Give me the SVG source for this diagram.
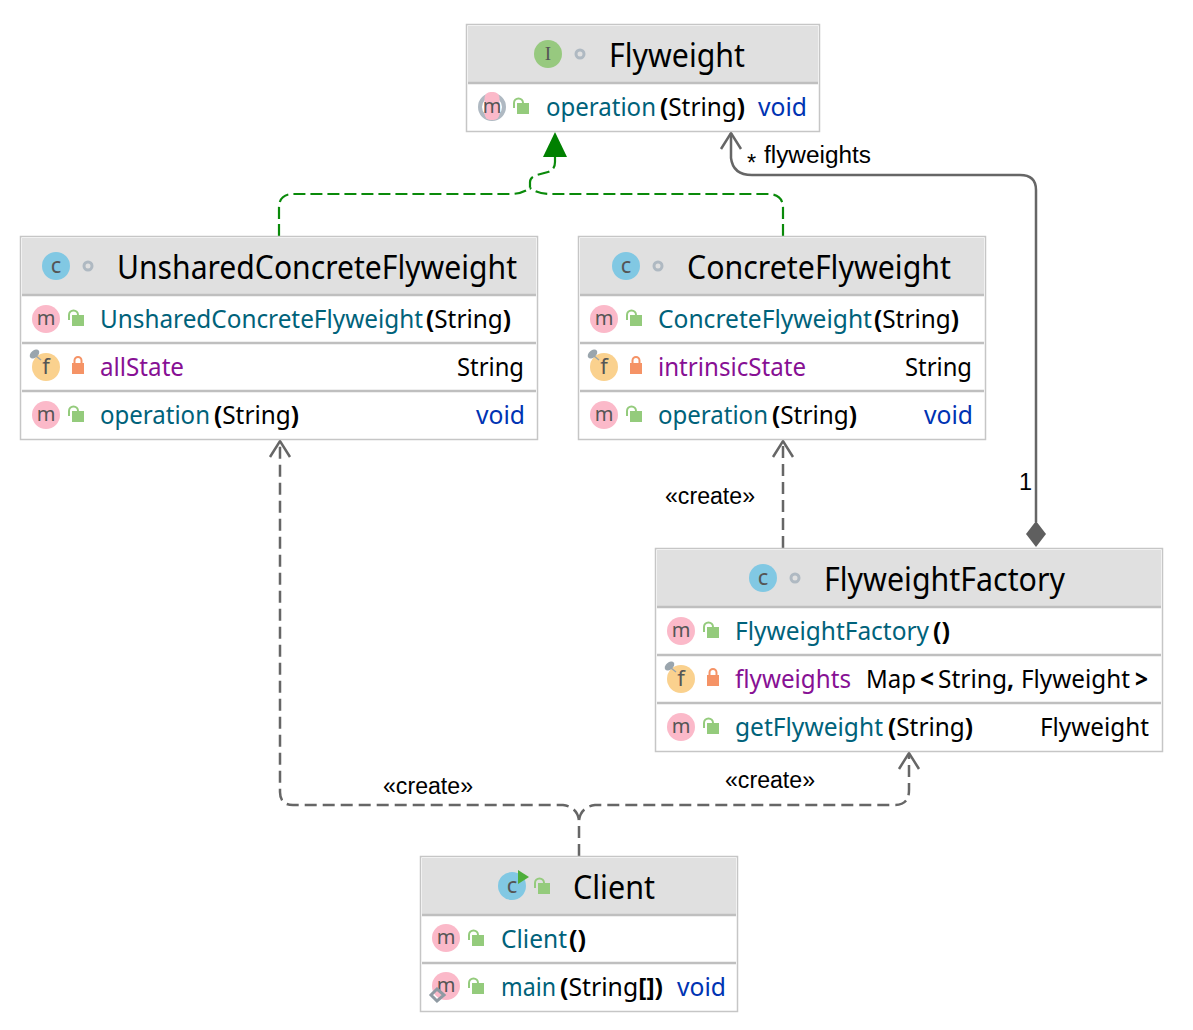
<svg xmlns="http://www.w3.org/2000/svg" xmlns:xlink="http://www.w3.org/1999/xlink" width="1193" height="1030" viewBox="0 0 1193 1030">
<style>
text{font-family:"Noto Sans","Open Sans","Liberation Sans",sans-serif;font-size:25px;fill:#000}
.t{font-size:32px}
.m{fill:#00627a}.f{fill:#871094}.k{fill:#0033b3}
.b{font-weight:700}
.l{font-family:"Liberation Sans",Arial,sans-serif;font-size:23.5px}
.box{fill:#fff;stroke:#c6c6c6;stroke-width:1.5}
.hd{fill:#e0e0e0}
.dv{stroke:#bfbfbf;stroke-width:2.5;fill:none}
.ic{font-size:20px;fill:#555;text-anchor:middle}
.ii{font-family:"Liberation Serif",serif;font-size:19px;fill:#555;text-anchor:middle}
.e{fill:none;stroke:#666;stroke-width:2.5}
.d{stroke-dasharray:12 6}
.g{fill:none;stroke:#0a8a0a;stroke-width:2.2;stroke-dasharray:12 5}
</style>
<defs>
<g id="open"><path d="M-6 3V-2A4.500 4.500 0 0 1 3-2" fill="none" stroke="#94cb7c" stroke-width="2"/><rect x="-3" y="-2" width="12" height="11" fill="#94cb7c"/></g>
<g id="priv"><path d="M-3.500 -2V-4.500A3.500 3.500 0 0 1 3.500-4.500V-2" fill="none" stroke="#f59366" stroke-width="2"/><rect x="-6" y="-2" width="12" height="11" fill="#f59366"/></g>
<g id="mi"><circle r="14" fill="#fbb9c9"/><text class="ic" y="6">m</text></g>
<g id="fi"><circle r="14" fill="#fad18e"/><text class="ic" y="7" style="font-size:22px">f</text><ellipse cx="-11.500" cy="-13" rx="5.500" ry="3.500" transform="rotate(-40 -11.500 -13)" fill="#9aa5ad"/><path d="M-10-11L-5-7" stroke="#9aa5ad" stroke-width="1.500"/></g>
<g id="ci"><circle r="14" fill="#81c8e3"/><text class="ic" y="6.500" style="font-size:22px">c</text></g>
<circle id="st" r="4" fill="none" stroke="#afb9c2" stroke-width="3"/>
</defs>

<g id="connectors">
<path class="g" d="M279 236V208Q279 194 293 194H510Q522 194 530 188V182Q530 177 537 175L548 172Q555 170 555 162V156"/>
<path class="g" d="M783 236V208Q783 194 768 194H550Q538 194 530 188"/>
<polygon points="555,132 543,157 567,157" fill="#008000"/>
<path class="e" d="M731 133V158Q733 175 752 175H1020Q1036 175 1036 190V522"/>
<path class="e" d="M721 149L731 133L741 149"/>
<polygon points="1036,521 1046,534 1036,547 1026,534" fill="#5f5f5f"/>
<path class="e d" d="M783 548V442"/>
<path class="e" d="M773 457L783 441L793 457"/>
<path class="e d" d="M579 856V820Q577 807 563 805H293Q280 805 280 792V442"/>
<path class="e" d="M270 457L280 441L290 457"/>
<path class="e d" d="M579 820Q581 807 595 805H895Q909 805 909 790V754"/>
<path class="e" d="M899 769L909 753L919 769"/>
<text class="l" x="747" y="171" textLength="9">*</text>
<text class="l" x="764" y="163" textLength="107" lengthAdjust="spacingAndGlyphs">flyweights</text>
<text class="l" x="1019" y="490">1</text>
<text class="l" x="665" y="504" textLength="90" lengthAdjust="spacingAndGlyphs">«create»</text>
<text class="l" x="383" y="794" textLength="90" lengthAdjust="spacingAndGlyphs">«create»</text>
<text class="l" x="725" y="788" textLength="90" lengthAdjust="spacingAndGlyphs">«create»</text>
</g>

<g id="Flyweight">
<rect class="box" x="466.500" y="24.500" width="353" height="107"/>
<rect class="hd" x="468" y="26" width="350" height="56"/>
<path class="dv" d="M468 83H818"/>
<circle cx="548" cy="54" r="14" fill="#97c97f"/><text class="ii" x="548" y="60">I</text>
<use href="#st" x="580" y="54"/>
<text class="t" x="609" y="67" textLength="136" lengthAdjust="spacingAndGlyphs">Flyweight</text>
<circle cx="492" cy="107" r="12" fill="none" stroke="#afb9c2" stroke-width="4"/><rect x="484.500" y="92" width="15" height="28" rx="6" fill="#fbb9c9"/><text class="ic" x="492" y="113">m</text>
<use href="#open" x="520" y="105"/>
<text class="m" x="546" y="116" textLength="110" lengthAdjust="spacingAndGlyphs">operation</text>
<text x="660" y="116" textLength="85" lengthAdjust="spacingAndGlyphs"><tspan class="b">(</tspan>String<tspan class="b">)</tspan></text>
<text class="k" x="758" y="116" textLength="49" lengthAdjust="spacingAndGlyphs">void</text>
</g>

<g id="UnsharedConcreteFlyweight">
<rect class="box" x="20.500" y="236.500" width="517" height="203"/>
<rect class="hd" x="22" y="238" width="514" height="56"/>
<path class="dv" d="M22 295H536M22 343H536M22 391H536"/>
<use href="#ci" x="56" y="266"/><use href="#st" x="88" y="266"/>
<text class="t" x="117" y="279" textLength="400" lengthAdjust="spacingAndGlyphs">UnsharedConcreteFlyweight</text>
<use href="#mi" x="46" y="319"/><use href="#open" x="75" y="317"/>
<text class="m" x="100" y="328" textLength="323" lengthAdjust="spacingAndGlyphs">UnsharedConcreteFlyweight</text>
<text x="426" y="328" textLength="85" lengthAdjust="spacingAndGlyphs"><tspan class="b">(</tspan>String<tspan class="b">)</tspan></text>
<use href="#fi" x="46" y="367"/><use href="#priv" x="78" y="365"/>
<text class="f" x="100" y="376" textLength="84" lengthAdjust="spacingAndGlyphs">allState</text>
<text x="457" y="376" textLength="67" lengthAdjust="spacingAndGlyphs">String</text>
<use href="#mi" x="46" y="415"/><use href="#open" x="75" y="413"/>
<text class="m" x="100" y="424" textLength="110" lengthAdjust="spacingAndGlyphs">operation</text>
<text x="214" y="424" textLength="85" lengthAdjust="spacingAndGlyphs"><tspan class="b">(</tspan>String<tspan class="b">)</tspan></text>
<text class="k" x="476" y="424" textLength="49" lengthAdjust="spacingAndGlyphs">void</text>
</g>

<g id="ConcreteFlyweight">
<rect class="box" x="578.500" y="236.500" width="407" height="203"/>
<rect class="hd" x="580" y="238" width="404" height="56"/>
<path class="dv" d="M580 295H984M580 343H984M580 391H984"/>
<use href="#ci" x="626" y="266"/><use href="#st" x="658" y="266"/>
<text class="t" x="687" y="279" textLength="264" lengthAdjust="spacingAndGlyphs">ConcreteFlyweight</text>
<use href="#mi" x="604" y="319"/><use href="#open" x="633" y="317"/>
<text class="m" x="658" y="328" textLength="214" lengthAdjust="spacingAndGlyphs">ConcreteFlyweight</text>
<text x="874" y="328" textLength="85" lengthAdjust="spacingAndGlyphs"><tspan class="b">(</tspan>String<tspan class="b">)</tspan></text>
<use href="#fi" x="604" y="367"/><use href="#priv" x="636" y="365"/>
<text class="f" x="658" y="376" textLength="148" lengthAdjust="spacingAndGlyphs">intrinsicState</text>
<text x="905" y="376" textLength="67" lengthAdjust="spacingAndGlyphs">String</text>
<use href="#mi" x="604" y="415"/><use href="#open" x="633" y="413"/>
<text class="m" x="658" y="424" textLength="110" lengthAdjust="spacingAndGlyphs">operation</text>
<text x="772" y="424" textLength="85" lengthAdjust="spacingAndGlyphs"><tspan class="b">(</tspan>String<tspan class="b">)</tspan></text>
<text class="k" x="924" y="424" textLength="49" lengthAdjust="spacingAndGlyphs">void</text>
</g>

<g id="FlyweightFactory">
<rect class="box" x="655.500" y="548.500" width="507" height="203"/>
<rect class="hd" x="657" y="550" width="504" height="56"/>
<path class="dv" d="M657 607H1161M657 655H1161M657 703H1161"/>
<use href="#ci" x="763" y="578"/><use href="#st" x="795" y="578"/>
<text class="t" x="824" y="591" textLength="241" lengthAdjust="spacingAndGlyphs">FlyweightFactory</text>
<use href="#mi" x="681" y="631"/><use href="#open" x="710" y="629"/>
<text class="m" x="735" y="640" textLength="194" lengthAdjust="spacingAndGlyphs">FlyweightFactory</text>
<text class="b" x="933" y="640" textLength="17" lengthAdjust="spacingAndGlyphs">()</text>
<use href="#fi" x="681" y="679"/><use href="#priv" x="713" y="677"/>
<text class="f" x="735" y="688" textLength="116" lengthAdjust="spacingAndGlyphs">flyweights</text>
<text x="866" y="688" textLength="50" lengthAdjust="spacingAndGlyphs">Map</text>
<text class="b" x="920" y="688" textLength="14" lengthAdjust="spacingAndGlyphs">&lt;</text>
<text x="938" y="688" textLength="76" lengthAdjust="spacingAndGlyphs">String<tspan class="b">,</tspan></text>
<text x="1021" y="688" textLength="109" lengthAdjust="spacingAndGlyphs">Flyweight</text>
<text class="b" x="1135" y="688" textLength="13" lengthAdjust="spacingAndGlyphs">&gt;</text>
<use href="#mi" x="681" y="727"/><use href="#open" x="710" y="725"/>
<text class="m" x="735" y="736" textLength="148" lengthAdjust="spacingAndGlyphs">getFlyweight</text>
<text x="888" y="736" textLength="85" lengthAdjust="spacingAndGlyphs"><tspan class="b">(</tspan>String<tspan class="b">)</tspan></text>
<text x="1040" y="736" textLength="109" lengthAdjust="spacingAndGlyphs">Flyweight</text>
</g>

<g id="Client">
<rect class="box" x="420.500" y="856.500" width="317" height="155"/>
<rect class="hd" x="422" y="858" width="314" height="56"/>
<path class="dv" d="M422 915H736M422 963H736"/>
<use href="#ci" x="512" y="886"/><polygon points="518,870 529,877 518,884" fill="#4eae3a"/>
<use href="#open" x="541" y="885"/>
<text class="t" x="573" y="899" textLength="82" lengthAdjust="spacingAndGlyphs">Client</text>
<use href="#mi" x="446" y="938"/><use href="#open" x="475" y="937"/>
<text class="m" x="501" y="948" textLength="66" lengthAdjust="spacingAndGlyphs">Client</text>
<text class="b" x="569" y="948" textLength="17" lengthAdjust="spacingAndGlyphs">()</text>
<use href="#mi" x="446" y="986"/><use href="#open" x="475" y="985"/>
<polygon points="437,989 444,995 437,1001 431,995" fill="none" stroke="#8f9aa3" stroke-width="3"/>
<text class="m" x="501" y="996" textLength="55" lengthAdjust="spacingAndGlyphs">main</text>
<text x="560" y="996" textLength="103" lengthAdjust="spacingAndGlyphs"><tspan class="b">(</tspan>String<tspan class="b">[])</tspan></text>
<text class="k" x="677" y="996" textLength="49" lengthAdjust="spacingAndGlyphs">void</text>
</g>
</svg>
